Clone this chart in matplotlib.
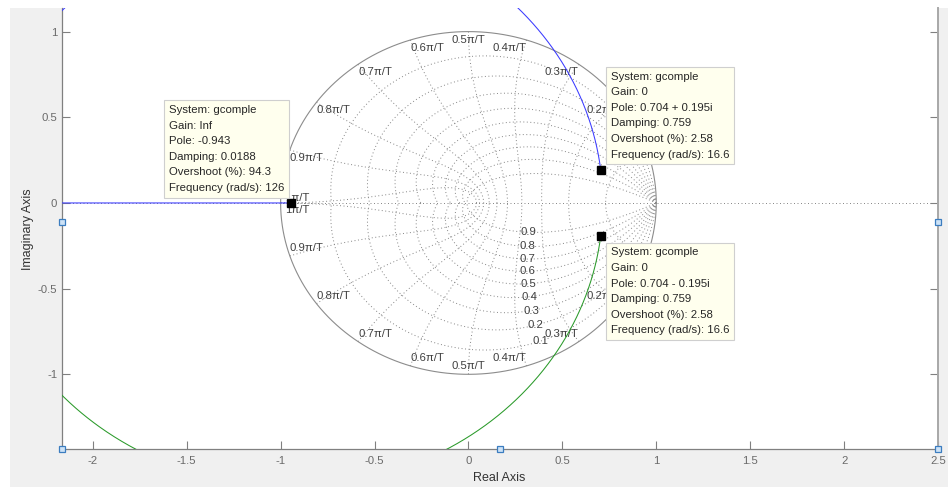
import numpy as np
import matplotlib
matplotlib.use("Agg")
import matplotlib.pyplot as plt
from matplotlib.patches import Rectangle
from matplotlib.lines import Line2D

plt.rcParams['font.family'] = ['Liberation Sans', 'DejaVu Sans']
plt.rcParams['axes.unicode_minus'] = False

# ---------------- data ----------------
pole_re = [0.704, 0.704]
pole_im = [0.195, -0.195]
zero_re = [-0.943]
gains = np.concatenate([[0.0], np.geomspace(1e-4, 1e6, 6000)])

damping_levels = [0.1, 0.2, 0.3, 0.4, 0.5, 0.6, 0.7, 0.8, 0.9]
freq_levels = [0.1, 0.2, 0.3, 0.4, 0.5, 0.6, 0.7, 0.8, 0.9, 1.0]   # x pi/T
freq_labels = ['', '0.2\u03c0/T', '0.3\u03c0/T', '0.4\u03c0/T', '0.5\u03c0/T',
               '0.6\u03c0/T', '0.7\u03c0/T', '0.8\u03c0/T', '0.9\u03c0/T', '1\u03c0/T']
damping_labels = ['0.1', '0.2', '0.3', '0.4', '0.5', '0.6', '0.7', '0.8', '0.9']

x_ticks = [-2, -1.5, -1, -0.5, 0, 0.5, 1, 1.5, 2, 2.5]
x_ticklabels = ['-2', '-1.5', '-1', '-0.5', '0', '0.5', '1', '1.5', '2', '2.5']
y_ticks = [-1, -0.5, 0, 0.5, 1]
y_ticklabels = ['-1', '-0.5', '0', '0.5', '1']

tip_re = [-0.943, 0.704, 0.704]
tip_im = [0.0, 0.195, -0.195]
tip_texts = [
    "System: gcomple\nGain: Inf\nPole: -0.943\nDamping: 0.0188\nOvershoot (%): 94.3\nFrequency (rad/s): 126",
    "System: gcomple\nGain: 0\nPole: 0.704 + 0.195i\nDamping: 0.759\nOvershoot (%): 2.58\nFrequency (rad/s): 16.6",
    "System: gcomple\nGain: 0\nPole: 0.704 - 0.195i\nDamping: 0.759\nOvershoot (%): 2.58\nFrequency (rad/s): 16.6",
]

# ---------------- figure ----------------
W, H = 948, 488
fig = plt.figure(figsize=(W / 100, H / 100), dpi=100, facecolor='white')
fig.add_artist(Rectangle((10 / W, 1 / H), (W - 10) / W, 479 / H, transform=fig.transFigure,
                         facecolor='#f0f0f0', edgecolor='none', zorder=-10))

ax_l, ax_r, ax_b, ax_t = 62, 938, 449.3, 8
ax = fig.add_axes([ax_l / W, (H - ax_b) / H, (ax_r - ax_l) / W, (ax_b - ax_t) / H])
ax.set_facecolor('white')
ax.set_xlim(-2.164, 2.5)
ax.set_ylim(-1.4376, 1.1377)

# zgrid
gc = '#858585'
dots = (0, (1, 2.6))
glw = 0.7
th = np.linspace(0, np.pi, 500)
for z in damping_levels:
    r = np.exp(-z * th / np.sqrt(1 - z * z))
    ax.plot(r * np.cos(th), r * np.sin(th), color=gc, lw=glw, ls=dots, zorder=1)
    ax.plot(r * np.cos(th), -r * np.sin(th), color=gc, lw=glw, ls=dots, zorder=1)
zz = np.linspace(0, 1, 300)
for wn in freq_levels:
    w = wn * np.pi
    r = np.exp(-zz * w)
    a = w * np.sqrt(1 - zz ** 2)
    ax.plot(r * np.cos(a), r * np.sin(a), color=gc, lw=glw, ls=dots, zorder=1)
    ax.plot(r * np.cos(a), -r * np.sin(a), color=gc, lw=glw, ls=dots, zorder=1)
ax.axhline(0, color=gc, lw=glw, ls=dots, zorder=1)
tc = np.linspace(0, 2 * np.pi, 600)
ax.plot(np.cos(tc), np.sin(tc), color='#8c8c8c', lw=0.8, zorder=2)

lab_c = '#404040'
fs = 8.2
for wn, lab in zip(freq_levels, freq_labels):
    if not lab:
        continue
    a = wn * np.pi
    cx, cy = np.cos(a), np.sin(a)
    if abs(cx) < 1e-6:
        ha = 'center'
    elif cx > 0:
        ha = 'right'
    else:
        ha = 'left'
    if wn < 1:
        ax.annotate(lab, (cx, cy), xytext=(0, -3), textcoords='offset pixels', ha=ha, va='top',
                    fontsize=fs, color=lab_c, zorder=3)
        ax.annotate(lab, (cx, -cy), xytext=(0, 3), textcoords='offset pixels', ha=ha, va='bottom',
                    fontsize=fs, color=lab_c, zorder=3)
    else:
        ax.annotate(lab, (cx, 0), xytext=(4, 0), textcoords='offset pixels', ha='left', va='bottom',
                    fontsize=fs, color=lab_c, zorder=3)
        ax.annotate(lab, (cx, 0), xytext=(4, -2), textcoords='offset pixels', ha='left', va='top',
                    fontsize=fs, color=lab_c, zorder=3)
for z, lab in zip(damping_levels, damping_labels):
    w = 0.36 * np.pi
    r = np.exp(-z * w)
    a = w * np.sqrt(1 - z * z)
    ax.text(r * np.cos(a), -r * np.sin(a), lab, ha='center', va='center', fontsize=fs,
            color=lab_c, zorder=3)

# root locus
poles = np.array(pole_re) + 1j * np.array(pole_im)
den = np.real(np.poly(poles))
num = np.real(np.poly(zero_re))
num_pad = np.concatenate([np.zeros(len(den) - len(num)), num])
b1, b2 = [], []
for k in gains:
    rts = np.roots(den + k * num_pad)
    if abs(rts[0].imag) > 1e-12:
        up = rts[np.argmax(rts.imag)]
        lo = rts[np.argmin(rts.imag)]
    else:
        up = rts[np.argmax(rts.real)]
        lo = rts[np.argmin(rts.real)]
    b1.append(up)
    b2.append(lo)
b1 = np.array(b1)
b2 = np.array(b2)
ax.plot(b1.real, b1.imag, color='#3a3aff', lw=0.75, zorder=4)
ax.plot(b2.real, b2.imag, color='#2a9a2a', lw=0.75, zorder=4)

# datatips
ax.plot(tip_re, tip_im, 's', color='black', ms=5.8, zorder=6)
offsets = [(-7, 10, 'right', 'bottom'), (10, 10, 'left', 'bottom'), (10, -11, 'left', 'top')]
for x, y, t, (dx, dy, ha, va) in zip(tip_re, tip_im, tip_texts, offsets):
    ax.annotate(t, (x, y), xytext=(dx, dy), textcoords='offset pixels', ha=ha, va=va,
                multialignment='left', fontsize=fs, color='#262626', linespacing=1.7, zorder=7,
                bbox=dict(boxstyle='square,pad=0.4', facecolor='#ffffee', edgecolor='#cfcfcf', lw=0.8))

# axes styling
ax.set_xticks(x_ticks)
ax.set_xticklabels(x_ticklabels)
ax.set_yticks(y_ticks)
ax.set_yticklabels(y_ticklabels)
ax.tick_params(direction='in', length=5.5, width=0.8, color='#808080', labelcolor='#6a6a6a',
               labelsize=fs, right=True, top=False)
ax.tick_params(axis='x', pad=5)
ax.tick_params(axis='y', pad=3.5)
ax.spines['top'].set_visible(False)
for s in ['left', 'right', 'bottom']:
    ax.spines[s].set_color('#808080')
    ax.spines[s].set_linewidth(0.9)
ax.spines['right'].set_color('#a8a8a8')
ax.spines['right'].set_linewidth(1.4)

fig.text(499 / W, 1 - 478 / H, 'Real Axis', ha='center', va='center', fontsize=9, color='#333333')
fig.text(28 / W, 1 - 229 / H, 'Imaginary Axis', ha='center', va='center', rotation=90,
         fontsize=9, color='#333333')

# selection handles
for hx, hy in [(62, 221.7), (938, 221.7), (62, 449.3), (500, 449.3), (938, 449.3)]:
    fig.add_artist(Line2D([hx / W], [1 - hy / H], transform=fig.transFigure, marker='s', ms=4.5,
                          mfc='#cde2f6', mec='#3b7dc0', mew=0.9, ls='none', zorder=20))

fig.savefig('out.png', dpi=100, facecolor=fig.get_facecolor())
